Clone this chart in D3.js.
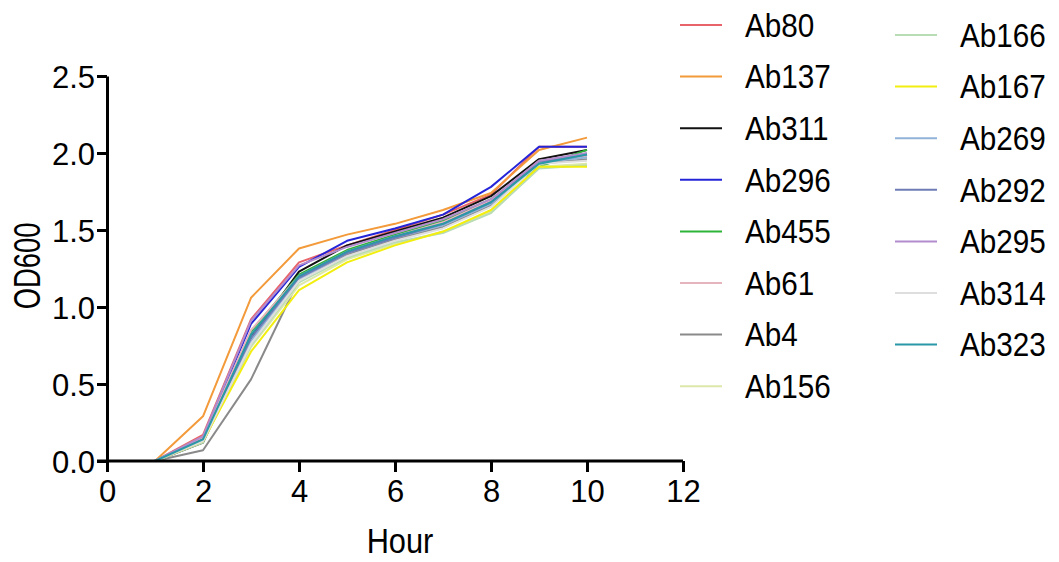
<!DOCTYPE html>
<html><head><meta charset="utf-8">
<script src="https://cdn.jsdelivr.net/npm/d3@7"></script>
<style>
html,body{margin:0;padding:0;background:#fff;}
text{font-family:"Liberation Sans",Arial,Helvetica,sans-serif;fill:#000;}
</style></head>
<body>
<svg id="chart" width="1059" height="562"></svg>
<script>
const hours = [1,2,3,4,5,6,7,8,9,10];
const seriesNames = ["Ab80","Ab137","Ab311","Ab296","Ab455","Ab61","Ab4","Ab156","Ab166","Ab167","Ab269","Ab292","Ab295","Ab314","Ab323"];
const seriesColors = ["#e8646a","#f39a3a","#111111","#2424d8","#2fb43a","#e6b4bc","#8a8a8a","#dce8a8","#b8dcb4","#f2ee10","#92b2d8","#6e7cb6","#b28ccc","#dedede","#2a98a6"];
const Ab80  = [0,0.17,0.92,1.29,1.40,1.50,1.60,1.73,2.04,2.04];
const Ab137 = [0,0.29,1.06,1.38,1.47,1.54,1.63,1.74,2.02,2.10];
const Ab311 = [0,0.12,0.80,1.23,1.40,1.49,1.58,1.72,1.96,2.02];
const Ab296 = [0,0.15,0.89,1.26,1.43,1.51,1.60,1.78,2.04,2.04];
const Ab455 = [0,0.14,0.84,1.21,1.37,1.47,1.56,1.70,1.91,2.02];
const Ab61  = [0,0.15,0.85,1.20,1.36,1.46,1.55,1.69,1.95,1.98];
const Ab4   = [0,0.07,0.53,1.18,1.34,1.44,1.52,1.66,1.93,1.96];
const Ab156 = [0,0.13,0.74,1.14,1.31,1.41,1.49,1.62,1.91,1.93];
const Ab166 = [0,0.12,0.75,1.16,1.32,1.42,1.48,1.61,1.90,1.92];
const Ab167 = [0,0.13,0.71,1.11,1.29,1.40,1.49,1.63,1.91,1.91];
const Ab269 = [0,0.14,0.78,1.18,1.35,1.45,1.53,1.67,1.94,1.97];
const Ab292 = [0,0.14,0.80,1.19,1.35,1.45,1.54,1.68,1.94,1.99];
const Ab295 = [0,0.16,0.91,1.27,1.39,1.48,1.57,1.70,1.95,2.00];
const Ab314 = [0,0.13,0.76,1.17,1.33,1.43,1.51,1.65,1.93,1.95];
const Ab323 = [0,0.14,0.82,1.20,1.36,1.46,1.54,1.68,1.93,1.99];
const seriesValues = [Ab80,Ab137,Ab311,Ab296,Ab455,Ab61,Ab4,Ab156,Ab166,Ab167,Ab269,Ab292,Ab295,Ab314,Ab323];
const xTicks = [0,2,4,6,8,10,12];
const yTicks = [0,0.5,1.0,1.5,2.0,2.5];

const svg = d3.select("#chart");
const x = d3.scaleLinear().domain([0,12]).range([107,683]);
const y = d3.scaleLinear().domain([0,2.5]).range([461,76]);

// lines
const line = d3.line().x((d,i)=>x(hours[i])).y(d=>y(d));
const g = svg.append("g");
seriesValues.forEach((vals,k)=>{
  g.append("path").datum(vals).attr("d",line)
   .attr("fill","none").attr("stroke",seriesColors[k]).attr("stroke-width",2)
   .attr("stroke-linejoin","round");
});

// axes
const xAxis = svg.append("g").attr("transform","translate(0,461)")
  .call(d3.axisBottom(x).tickValues(xTicks).tickFormat(d3.format("d")).tickSize(11).tickPadding(8).tickSizeOuter(0));
const yAxis = svg.append("g").attr("transform","translate(107,0)")
  .call(d3.axisLeft(y).tickValues(yTicks).tickFormat(d3.format(".1f")).tickSize(10).tickPadding(2).tickSizeOuter(0));
[xAxis,yAxis].forEach(a=>{
  a.select(".domain").attr("stroke","#000").attr("stroke-width",3);
  a.selectAll(".tick line").attr("stroke","#000").attr("stroke-width",3);
  a.selectAll(".tick text").attr("font-size",31).attr("font-family","Liberation Sans, Arial, sans-serif").attr("fill","#000");
});
xAxis.select(".domain").attr("d","M97,0H683");
yAxis.selectAll(".tick text").attr("dy","0.36em");

// axis titles
svg.append("text").attr("transform",`translate(${x(6)+5},553) scale(0.88,1)`).attr("text-anchor","middle").attr("font-size",35).text("Hour");
svg.append("text").attr("transform","translate(40,266) rotate(-90) scale(0.74,1)").attr("text-anchor","middle").attr("font-size",37).text("OD600");

// legend
const legendCols = [{lx1:680,lx2:722,tx:745,y0:25},{lx1:895,lx2:937,tx:960,y0:35}];
const perCol = 8;
seriesNames.forEach((n,k)=>{
  const c = legendCols[k<perCol?0:1];
  const row = k<perCol?k:k-perCol;
  const cy = c.y0 + row*51.6;
  svg.append("line").attr("x1",c.lx1).attr("x2",c.lx2).attr("y1",cy).attr("y2",cy)
     .attr("stroke",seriesColors[k]).attr("stroke-width",2);
  svg.append("text").attr("transform",`translate(${c.tx},${cy}) scale(0.9,1)`).attr("dy","0.36em").attr("font-size",33).text(n);
});
</script>
</body></html>
